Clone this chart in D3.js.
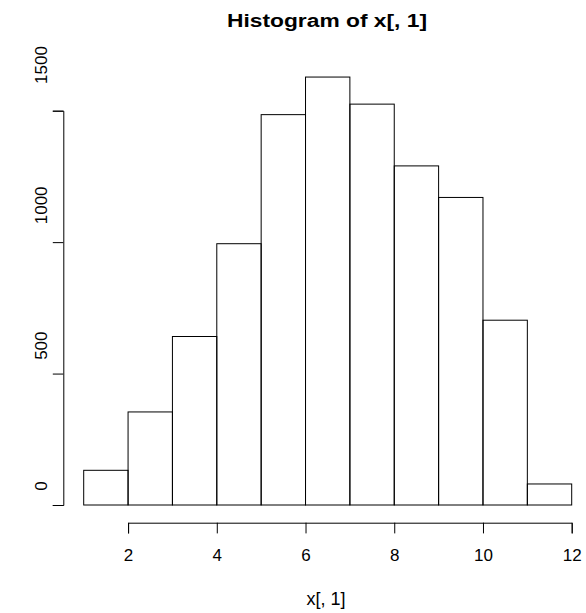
<!DOCTYPE html>
<html>
<head>
<meta charset="utf-8">
<script src="https://cdn.jsdelivr.net/npm/d3@7"></script>
<style>
  html, body { margin: 0; padding: 0; background: #fff; }
  svg { display: block; font-family: "Liberation Sans", Arial, Helvetica, sans-serif; }
</style>
</head>
<body>
<svg id="chart" width="586" height="613"></svg>
<script>
// ---- data ----
const binEdges = [1, 2, 3, 4, 5, 6, 7, 8, 9, 10, 11, 12];
const counts = [132, 354, 641, 994, 1485, 1628, 1525, 1290, 1170, 703, 80];
const xTicks = [2, 4, 6, 8, 10, 12];
const yTicks = [0, 500, 1000, 1500];
const titleText = "Histogram of x[, 1]";
const xLabelText = "x[, 1]";

// ---- layout ----
const svg = d3.select("#chart");
const x = d3.scaleLinear().domain([1, 12]).range([83.7, 571.7]);
const y = d3.scaleLinear().domain([0, 1500]).range([505, 110.7]);
// rotated y tick label positions as they appear in the reference
const yLab = d3.scaleLinear().domain([0, 1500]).range([486, 65]);

const bins = counts.map((c, i) => ({ x0: binEdges[i], x1: binEdges[i + 1], n: c }));

// bars
svg.append("g").selectAll("rect").data(bins).join("rect")
  .attr("x", d => x(d.x0))
  .attr("y", d => y(d.n))
  .attr("width", d => x(d.x1) - x(d.x0))
  .attr("height", d => y(0) - y(d.n))
  .attr("fill", "none")
  .attr("stroke", "#000")
  .attr("stroke-width", 1);

// x axis (from 2 to 12)
const xAxisScale = d3.scaleLinear().domain([2, 12]).range([x(2), x(12)]);
const gx = svg.append("g").attr("transform", "translate(0,522.7)")
  .call(d3.axisBottom(xAxisScale).tickValues(xTicks).tickSizeOuter(0).tickSize(10.7).tickPadding(16).tickFormat(d3.format("d")));
gx.selectAll("path, line").attr("stroke", "#000");
gx.selectAll("text").attr("font-size", 17).attr("fill", "#000")
  .attr("font-family", "'Liberation Sans', Arial, sans-serif");

// y axis
const gy = svg.append("g").attr("transform", "translate(63.3,0)")
  .call(d3.axisLeft(y).tickValues(yTicks).tickSizeOuter(0).tickSize(10.5).tickFormat(""));
gy.selectAll("path, line").attr("stroke", "#000");

// rotated y tick labels
svg.append("g").selectAll("text").data(yTicks).join("text")
  .attr("transform", d => `translate(47,${yLab(d)}) rotate(-90)`)
  .attr("text-anchor", "middle")
  .attr("font-size", 17)
  .attr("fill", "#000")
  .text(d => d);

// title
svg.append("text")
  .attr("x", 327).attr("y", 26.7)
  .attr("text-anchor", "middle")
  .attr("font-size", 18)
  .attr("font-weight", "bold")
  .attr("fill", "#000")
  .attr("textLength", 200)
  .attr("lengthAdjust", "spacingAndGlyphs")
  .text(titleText);

// x label
svg.append("text")
  .attr("x", 326).attr("y", 605)
  .attr("text-anchor", "middle")
  .attr("font-size", 18)
  .attr("fill", "#000")
  .attr("textLength", 39)
  .attr("lengthAdjust", "spacingAndGlyphs")
  .text(xLabelText);
</script>
</body>
</html>
